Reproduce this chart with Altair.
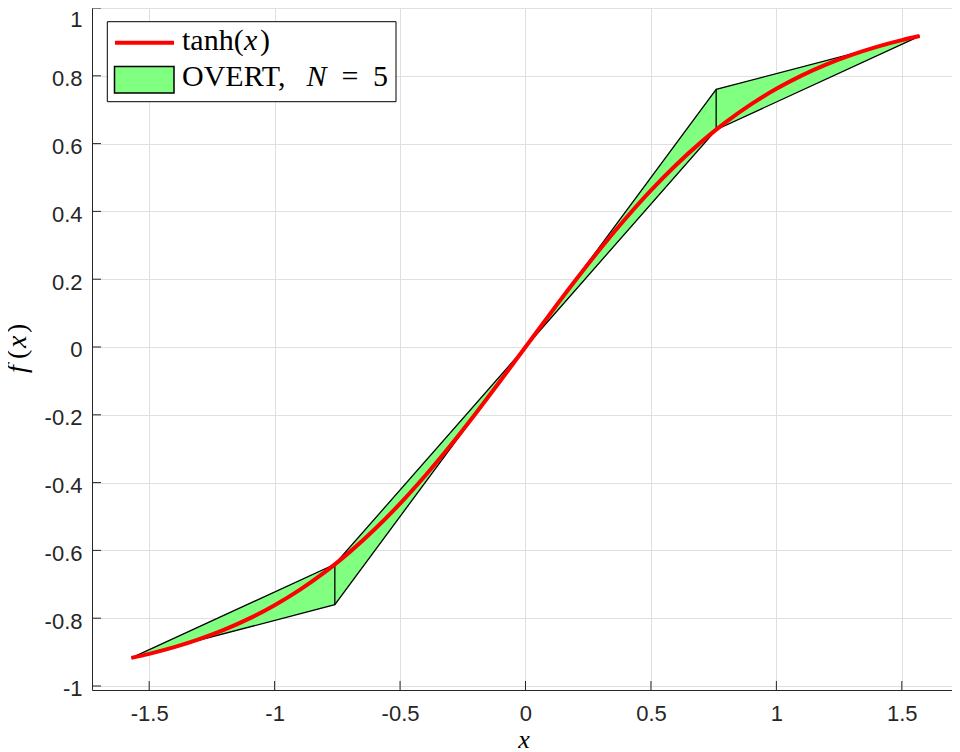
import altair as alt
import pandas as pd

# tanh(x) curve, values
curve_x = [-1.5708, -1.5, -1.4, -1.3, -1.2, -1.1, -1.0, -0.9, -0.8, -0.76, -0.7, -0.6, -0.5,
           -0.4, -0.3, -0.2, -0.1, 0.0, 0.1, 0.2, 0.3, 0.4, 0.5, 0.6, 0.7, 0.76, 0.8, 0.9,
           1.0, 1.1, 1.2, 1.3, 1.4, 1.5, 1.5708]
curve_y = [-0.9172, -0.9051, -0.8854, -0.8617, -0.8337, -0.8005, -0.7616, -0.7163, -0.6640,
           -0.6411, -0.6044, -0.5370, -0.4621, -0.3799, -0.2913, -0.1974, -0.0997, 0.0,
           0.0997, 0.1974, 0.2913, 0.3799, 0.4621, 0.5370, 0.6044, 0.6411, 0.6640, 0.7163,
           0.7616, 0.8005, 0.8337, 0.8617, 0.8854, 0.9051, 0.9172]

# OVERT bounds (N = 5)
bound_x = [-1.5708, -0.76, 0.0, 0.76, 1.5708]
bound_upper = [-0.9172, -0.641, 0.0, 0.76, 0.9172]
bound_lower = [-0.9172, -0.76, 0.0, 0.641, 0.9172]
split_x = [-0.76, 0.76]
split_lo = [-0.76, 0.641]
split_hi = [-0.641, 0.76]

x_ticks = [-1.5, -1.0, -0.5, 0.0, 0.5, 1.0, 1.5]
y_ticks = [-1.0, -0.8, -0.6, -0.4, -0.2, 0.0, 0.2, 0.4, 0.6, 0.8, 1.0]

curve_df = pd.DataFrame({"x": curve_x, "y": curve_y})
bound_df = pd.DataFrame({"x": bound_x, "upper": bound_upper, "lower": bound_lower})
split_df = pd.DataFrame({"x": split_x, "lo": split_lo, "hi": split_hi})
xt_df = pd.DataFrame({"x": x_ticks})
yt_df = pd.DataFrame({"y": y_ticks})
one = pd.DataFrame({"a": [0]})

W, H = 860, 682
xs = alt.Scale(domain=[-1.7279, 1.7], nice=False, zero=False)
ys = alt.Scale(domain=[-1.0118, 1.0], nice=False, zero=False)
lab = "replace(datum.label, '\u2212', '-')"
x_axis = alt.Axis(values=x_ticks, format="~g", labelExpr=lab, title=None,
                  labelPadding=13, labelFlush=False)
y_axis = alt.Axis(values=y_ticks, format="~g", labelExpr=lab, title=None,
                  labelPadding=10, labelFlush=False,
                  labelBaseline={"condition": {"test": "datum.value >= 0.99", "value": "top"},
                                 "value": "middle"},
                  labelOffset={"condition": {"test": "datum.value >= 0.99", "value": 1},
                               "value": 3})

def X(f):
    return alt.X(f, type="quantitative", scale=xs, axis=x_axis)

def Y(f):
    return alt.Y(f, type="quantitative", scale=ys, axis=y_axis)

area = alt.Chart(bound_df).mark_area(
    color="#80ff80", opacity=1, stroke="black", strokeWidth=1.3, strokeJoin="miter"
).encode(x=X("x"), y=Y("upper"), y2="lower")

splits = alt.Chart(split_df).mark_rule(color="black", strokeWidth=1.3).encode(
    x=X("x"), y=Y("lo"), y2="hi")

curve = alt.Chart(curve_df).mark_line(
    color="#ff0000", strokeWidth=4, interpolate="monotone"
).encode(x=X("x"), y=Y("y"))

xtick = alt.Chart(xt_df).mark_rule(color="#262626", strokeWidth=1).encode(
    x=X("x"), y=alt.value(H), y2=alt.value(H - 9))
ytick = alt.Chart(yt_df).mark_rule(color="#262626", strokeWidth=1).encode(
    y=Y("y"), x=alt.value(0), x2=alt.value(9))

# legend
leg_box = alt.Chart(one).mark_rect(fill="white", stroke="black", strokeWidth=1).encode(
    x=alt.value(15.3), x2=alt.value(304), y=alt.value(13.7), y2=alt.value(93.7))
leg_line = alt.Chart(one).mark_rule(color="#ff0000", strokeWidth=4).encode(
    x=alt.value(23), x2=alt.value(82), y=alt.value(34.7))
leg_patch = alt.Chart(one).mark_rect(fill="#80ff80", stroke="black", strokeWidth=1.5).encode(
    x=alt.value(22.5), x2=alt.value(82), y=alt.value(58.5), y2=alt.value(85))

def txt(s, x, y, italic=False, size=30, angle=None, align="left", font="Liberation Serif"):
    kw = dict(text=s, align=align, baseline="alphabetic", font=font, fontSize=size,
              color="black")
    if italic:
        kw["fontStyle"] = "italic"
    if angle is not None:
        kw["angle"] = angle
    return alt.Chart(one).mark_text(**kw).encode(x=alt.value(x), y=alt.value(y))

texts = [
    txt("tanh(", 90, 42), txt("x", 152, 42, italic=True), txt(")", 168, 42),
    txt("OVERT,", 90, 78), txt("N", 214.5, 78, italic=True), txt("=", 249.5, 78),
    txt("5", 281, 78),
    # axis titles
    txt("x", 432, 740, italic=True, align="center", size=26),
    txt("f", -66, 365, italic=True, angle=270, size=28),
    txt("(", -66, 351, angle=270, size=28),
    txt("x", -66, 340, italic=True, angle=270, size=28),
    txt(")", -66, 325, angle=270, size=28),
]

chart = alt.layer(area, splits, curve, xtick, ytick, leg_box, leg_line, leg_patch, *texts).properties(
    width=W, height=H,
    autosize=alt.AutoSizeParams(type="none"),
    padding={"left": 84, "top": 0, "right": 0, "bottom": 62},
).configure_view(stroke=None).configure_axis(
    domainColor="#262626", domainWidth=1, gridColor="#dfdfdf", gridWidth=1,
    labelFont="Liberation Sans", labelFontSize=22, labelColor="#262626",
    ticks=False, tickSize=0,
)

chart.save("out.html", embed_options={"renderer": "svg", "actions": False})
